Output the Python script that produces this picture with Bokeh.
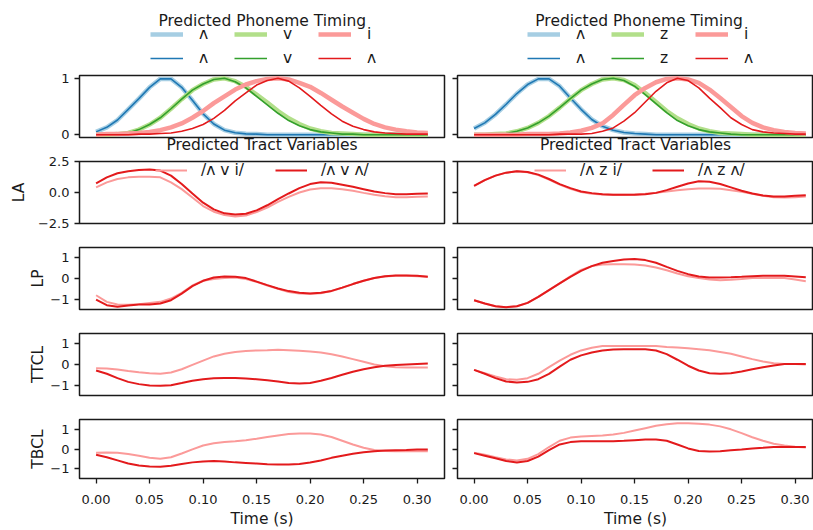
from bokeh.plotting import figure
from bokeh.models import Legend, LegendItem, FixedTicker, Range1d, PrintfTickFormatter, Label, Title
from bokeh.layouts import column, row
from bokeh.embed import file_html
from bokeh.resources import INLINE

# ---------------- data ----------------
time_s = [0.00, 0.01, 0.02, 0.03, 0.04, 0.05, 0.06, 0.07, 0.08, 0.09, 0.10,
          0.11, 0.12, 0.13, 0.14, 0.15, 0.16, 0.17, 0.18, 0.19, 0.20, 0.21,
          0.22, 0.23, 0.24, 0.25, 0.26, 0.27, 0.28, 0.29, 0.30, 0.31]

x_ticks = [0.00, 0.05, 0.10, 0.15, 0.20, 0.25, 0.30]

# phoneme timing, left word (/ʌ v i/ vs /ʌ v ʌ/)
L_ph1_light = [0.05, 0.13, 0.26, 0.45, 0.64, 0.84, 0.99, 0.99, 0.84, 0.61, 0.37, 0.19, 0.08, 0.035, 0.015, 0.01,
               0, 0, 0, 0, 0, 0, 0, 0, 0, 0, 0, 0, 0, 0, 0, 0]
L_ph1_dark = [0.05, 0.13, 0.26, 0.45, 0.64, 0.84, 0.99, 0.99, 0.84, 0.61, 0.37, 0.19, 0.08, 0.035, 0.015, 0.01,
              0, 0, 0, 0, 0, 0, 0, 0, 0, 0, 0, 0, 0, 0, 0, 0]
L_ph2_light = [0, 0, 0.01, 0.03, 0.09, 0.18, 0.30, 0.46, 0.63, 0.79, 0.90, 0.98, 1.0, 0.95, 0.85, 0.71,
               0.57, 0.42, 0.29, 0.19, 0.11, 0.06, 0.03, 0.02, 0.01, 0, 0, 0, 0, 0, 0, 0]
L_ph2_dark = [0, 0, 0.01, 0.03, 0.09, 0.18, 0.30, 0.46, 0.63, 0.79, 0.90, 0.98, 1.0, 0.94, 0.83, 0.68,
              0.53, 0.38, 0.25, 0.16, 0.09, 0.05, 0.03, 0.01, 0.01, 0, 0, 0, 0, 0, 0, 0]
L_ph3_light = [0.0, 0.01, 0.01, 0.02, 0.03, 0.05, 0.08, 0.13, 0.20, 0.30, 0.42, 0.56, 0.68, 0.80, 0.89, 0.95,
               0.99, 1.0, 0.98, 0.92, 0.85, 0.74, 0.62, 0.50, 0.39, 0.28, 0.19, 0.13, 0.09, 0.06, 0.04, 0.03]
L_ph3_dark = [0, 0, 0, 0, 0.01, 0.01, 0.02, 0.03, 0.06, 0.11, 0.18, 0.29, 0.43, 0.60, 0.74, 0.88,
              0.96, 1.0, 0.95, 0.83, 0.68, 0.52, 0.37, 0.24, 0.15, 0.09, 0.05, 0.03, 0.02, 0.01, 0.01, 0.01]

# phoneme timing, right word (/ʌ z i/ vs /ʌ z ʌ/)
R_ph1_light = [0.11, 0.21, 0.36, 0.54, 0.73, 0.89, 0.99, 0.99, 0.86, 0.65, 0.45, 0.27, 0.15, 0.08, 0.04, 0.02,
               0.01, 0, 0, 0, 0, 0, 0, 0, 0, 0, 0, 0, 0, 0, 0, 0]
R_ph1_dark = [0.11, 0.21, 0.36, 0.54, 0.73, 0.89, 0.99, 0.99, 0.86, 0.65, 0.45, 0.27, 0.15, 0.08, 0.04, 0.02,
              0.01, 0, 0, 0, 0, 0, 0, 0, 0, 0, 0, 0, 0, 0, 0, 0]
R_ph2_light = [0, 0, 0.01, 0.02, 0.06, 0.12, 0.21, 0.33, 0.48, 0.64, 0.79, 0.90, 0.98, 1.0, 0.97, 0.88,
               0.74, 0.58, 0.42, 0.29, 0.19, 0.11, 0.06, 0.03, 0.02, 0.01, 0, 0, 0, 0, 0, 0]
R_ph2_dark = [0, 0, 0.01, 0.02, 0.06, 0.12, 0.21, 0.33, 0.48, 0.64, 0.79, 0.90, 0.98, 1.0, 0.96, 0.86,
              0.71, 0.55, 0.39, 0.25, 0.16, 0.09, 0.05, 0.03, 0.01, 0, 0, 0, 0, 0, 0, 0]
R_ph3_light = [0, 0, 0, 0, 0, 0.01, 0.01, 0.01, 0.02, 0.04, 0.07, 0.12, 0.20, 0.35, 0.53, 0.70,
               0.83, 0.93, 0.99, 1.0, 0.98, 0.92, 0.80, 0.65, 0.49, 0.33, 0.21, 0.13, 0.08, 0.05, 0.03, 0.02]
R_ph3_dark = [0, 0, 0, 0, 0, 0, 0, 0, 0.01, 0.01, 0.01, 0.02, 0.06, 0.12, 0.24, 0.39,
              0.58, 0.77, 0.92, 1.0, 0.96, 0.83, 0.65, 0.48, 0.30, 0.18, 0.09, 0.05, 0.03, 0.02, 0.01, 0.01]

# tract variables, left word
L_LA_light = [0.41, 0.82, 1.09, 1.22, 1.28, 1.28, 1.22, 0.82, 0.27, -0.41, -1.09, -1.55, -1.82, -1.93, -1.85, -1.58,
              -1.22, -0.76, -0.35, 0.0, 0.24, 0.35, 0.35, 0.27, 0.14, -0.03, -0.19, -0.30, -0.38, -0.38, -0.35, -0.33]
L_LA_dark = [0.73, 1.22, 1.55, 1.71, 1.82, 1.85, 1.77, 1.36, 0.68, -0.08, -0.82, -1.36, -1.68, -1.77, -1.71, -1.44,
             -1.03, -0.54, -0.08, 0.35, 0.68, 0.82, 0.79, 0.63, 0.46, 0.27, 0.08, -0.05, -0.14, -0.14, -0.11, -0.08]
L_LP_light = [-0.81, -1.13, -1.26, -1.27, -1.24, -1.18, -1.13, -0.97, -0.69, -0.34, -0.11, -0.02, 0.03, 0.05, -0.02, -0.16,
              -0.34, -0.50, -0.65, -0.73, -0.74, -0.71, -0.61, -0.45, -0.27, -0.11, 0.02, 0.10, 0.13, 0.13, 0.11, 0.08]
L_LP_dark = [-1.02, -1.29, -1.37, -1.31, -1.26, -1.26, -1.21, -1.05, -0.73, -0.37, -0.11, 0.05, 0.10, 0.08, 0.02, -0.15,
             -0.32, -0.48, -0.61, -0.69, -0.73, -0.69, -0.60, -0.44, -0.27, -0.11, 0.02, 0.11, 0.15, 0.15, 0.13, 0.08]
L_TTCL_light = [-0.18, -0.19, -0.24, -0.31, -0.37, -0.42, -0.45, -0.39, -0.23, -0.02, 0.19, 0.39, 0.52, 0.60, 0.65, 0.68,
                0.69, 0.71, 0.69, 0.66, 0.63, 0.58, 0.50, 0.39, 0.26, 0.13, 0.0, -0.08, -0.13, -0.15, -0.15, -0.15]
L_TTCL_dark = [-0.29, -0.45, -0.66, -0.84, -0.95, -1.02, -1.03, -1.00, -0.90, -0.79, -0.71, -0.66, -0.65, -0.65, -0.68, -0.71,
               -0.76, -0.82, -0.89, -0.92, -0.89, -0.79, -0.65, -0.50, -0.35, -0.23, -0.13, -0.06, -0.03, 0.0, 0.03, 0.05]
L_TBCL_light = [-0.19, -0.18, -0.19, -0.26, -0.34, -0.44, -0.50, -0.42, -0.23, -0.02, 0.18, 0.29, 0.35, 0.39, 0.44, 0.52,
                0.61, 0.69, 0.76, 0.79, 0.79, 0.74, 0.61, 0.42, 0.23, 0.06, -0.05, -0.10, -0.11, -0.11, -0.11, -0.11]
L_TBCL_dark = [-0.29, -0.42, -0.58, -0.74, -0.84, -0.89, -0.90, -0.85, -0.76, -0.68, -0.63, -0.61, -0.63, -0.68, -0.71, -0.74,
               -0.77, -0.79, -0.79, -0.76, -0.69, -0.58, -0.45, -0.34, -0.24, -0.16, -0.11, -0.08, -0.06, -0.05, -0.03, -0.02]

# tract variables, right word
R_LA_light = [0.54, 1.0, 1.36, 1.60, 1.71, 1.63, 1.40, 1.04, 0.63, 0.30, 0.04, -0.10, -0.16, -0.19, -0.19, -0.17,
              -0.11, -0.03, 0.08, 0.19, 0.27, 0.33, 0.33, 0.30, 0.19, 0.05, -0.10, -0.27, -0.38, -0.41, -0.38, -0.33]
R_LA_dark = [0.54, 1.0, 1.36, 1.60, 1.71, 1.66, 1.44, 1.09, 0.68, 0.35, 0.08, -0.05, -0.14, -0.19, -0.19, -0.19,
             -0.14, -0.03, 0.19, 0.46, 0.73, 0.90, 0.87, 0.68, 0.41, 0.14, -0.08, -0.24, -0.33, -0.33, -0.27, -0.22]
R_LP_light = [-1.05, -1.21, -1.34, -1.39, -1.34, -1.18, -0.89, -0.56, -0.24, 0.10, 0.42, 0.60, 0.68, 0.69, 0.69, 0.68,
              0.63, 0.53, 0.40, 0.24, 0.11, 0.02, -0.05, -0.08, -0.06, -0.03, 0.02, 0.03, 0.03, 0.02, -0.05, -0.13]
R_LP_dark = [-1.05, -1.21, -1.34, -1.39, -1.34, -1.18, -0.89, -0.56, -0.24, 0.08, 0.37, 0.60, 0.76, 0.85, 0.92, 0.94,
             0.89, 0.76, 0.56, 0.37, 0.21, 0.10, 0.05, 0.05, 0.06, 0.08, 0.11, 0.13, 0.13, 0.13, 0.10, 0.06]
R_TTCL_light = [-0.26, -0.42, -0.58, -0.71, -0.74, -0.66, -0.45, -0.13, 0.19, 0.47, 0.68, 0.81, 0.89, 0.90, 0.90, 0.90,
                0.90, 0.89, 0.85, 0.82, 0.79, 0.74, 0.69, 0.61, 0.52, 0.39, 0.26, 0.15, 0.06, 0.03, 0.02, 0.0]
R_TTCL_dark = [-0.26, -0.45, -0.66, -0.82, -0.87, -0.84, -0.71, -0.45, -0.10, 0.23, 0.44, 0.58, 0.68, 0.73, 0.74, 0.74,
               0.74, 0.68, 0.50, 0.23, -0.06, -0.29, -0.42, -0.45, -0.42, -0.34, -0.23, -0.13, -0.05, 0.02, 0.03, 0.02]
R_TBCL_light = [-0.19, -0.29, -0.42, -0.53, -0.58, -0.50, -0.26, 0.10, 0.42, 0.58, 0.63, 0.66, 0.69, 0.74, 0.82, 0.94,
                1.06, 1.18, 1.26, 1.31, 1.31, 1.29, 1.24, 1.15, 1.00, 0.81, 0.60, 0.42, 0.27, 0.18, 0.11, 0.08]
R_TBCL_dark = [-0.21, -0.34, -0.47, -0.61, -0.69, -0.61, -0.39, -0.06, 0.23, 0.35, 0.39, 0.39, 0.39, 0.40, 0.42, 0.45,
               0.48, 0.48, 0.42, 0.23, 0.03, -0.10, -0.13, -0.11, -0.06, -0.02, 0.03, 0.06, 0.10, 0.10, 0.10, 0.10]

# legend labels, in plotting order (target, prediction pairs)
left_phonemes = ["ʌ", "ʌ", "v", "v", "i", "ʌ"]
right_phonemes = ["ʌ", "ʌ", "z", "z", "i", "ʌ"]
left_words = ["/ʌ v i/", "/ʌ v ʌ/"]
right_words = ["/ʌ z i/", "/ʌ z ʌ/"]
tract_names = ["LA", "LP", "TTCL", "TBCL"]

# ---------------- style ----------------
FONT = "DejaVu Sans"
INK = "#1a1a1a"
PH_COLORS = ["#a6cee3", "#1f78b4", "#b2df8a", "#33a02c", "#fb9a99", "#e31a1c"]
PH_WIDTHS = [4.5, 1.6, 4.5, 1.6, 4.5, 1.6]
C_LR, C_R = "#fb9a99", "#e31a1c"

HEADER_H = 70
COL_W = [450, 363]
# rows: phoneme, LA, LP, TTCL, TBCL
FRAME_H = [62, 62, 62, 62, 61]
TOP_B = [5, 8, 12, 12, 12]
BOT_B = [16, 12, 12, 12, 50]


def make_fig(col, r, ylim, yticks, ylabels, ylabel, label_standoff=7, label_baseline=None):
    if col == 0:
        mbl, fw, mbr, xr = 79, 365, 6, (-0.0155, 0.3256)
    else:
        mbl, fw, mbr, xr = 7, 356, 0, (-0.0155, 0.3172)
    last = r == 4
    p = figure(width=mbl + fw + mbr, height=TOP_B[r] + FRAME_H[r] + BOT_B[r],
               min_border_left=mbl, min_border_right=mbr,
               min_border_top=TOP_B[r], min_border_bottom=BOT_B[r],
               x_range=Range1d(*xr), y_range=Range1d(*ylim),
               x_axis_location="below" if last else None,
               output_backend="svg", toolbar_location=None, tools="")
    p.grid.visible = False
    p.outline_line_color = INK
    p.outline_line_width = 1.5
    p.background_fill_color = "white"
    p.border_fill_color = "white"
    for ax in p.yaxis:
        ax.ticker = FixedTicker(ticks=yticks)
        ax.axis_line_color = None
        ax.major_tick_out = 5
        ax.major_tick_in = 0
        ax.major_tick_line_width = 1.3
        ax.major_tick_line_color = INK
        ax.minor_tick_line_color = None
        ax.major_label_text_font = FONT
        ax.major_label_text_font_size = "13px"
        ax.major_label_text_color = INK
        if col == 0:
            ax.major_label_overrides = {t: l for t, l in zip(yticks, ylabels)}
            ax.major_label_standoff = 5
            if ylabel:
                ax.axis_label = ylabel
            ax.axis_label_text_font = FONT
            ax.axis_label_text_font_size = "15.5px"
            ax.axis_label_text_font_style = "normal"
            ax.axis_label_text_color = INK
            ax.axis_label_standoff = label_standoff
            if label_baseline:
                ax.axis_label_text_baseline = label_baseline
        else:
            ax.major_label_overrides = {t: "" for t in yticks}
            ax.major_label_standoff = 0
    if last:
        for ax in p.xaxis:
            ax.ticker = FixedTicker(ticks=x_ticks)
            ax.formatter = PrintfTickFormatter(format="%.2f")
            ax.axis_line_color = None
            ax.major_tick_out = 5
            ax.major_tick_in = 0
            ax.major_tick_line_width = 1.3
            ax.major_tick_line_color = INK
            ax.minor_tick_line_color = None
            ax.major_label_text_font = FONT
            ax.major_label_text_font_size = "13px"
            ax.major_label_text_color = INK
            ax.major_label_standoff = 11
            ax.axis_label = "Time (s)"
            ax.axis_label_text_font = FONT
            ax.axis_label_text_font_size = "15.5px"
            ax.axis_label_text_font_style = "normal"
            ax.axis_label_text_color = INK
            ax.axis_label_standoff = 3
    return p


def header_fig(col, series, labels):
    # strip above the phoneme panel: title and two-row legend (targets / predictions)
    p = figure(width=COL_W[col], height=HEADER_H, min_border=0,
               x_axis_location=None, y_axis_location=None,
               x_range=Range1d(-1.0, -0.5), y_range=Range1d(0, 1),
               output_backend="svg", toolbar_location=None, tools="")
    p.grid.visible = False
    p.outline_line_color = None
    cx = 261.8 if col == 0 else 188.6
    p.add_layout(Label(x=cx, y=HEADER_H - 20, x_units="screen", y_units="screen",
                       text="Predicted Phoneme Timing", text_align="center", text_baseline="middle",
                       text_font=FONT, text_font_size="15.5px", text_color=INK))
    # same series as the panel below; this strip's x range lies outside the data, so only legend keys show
    rends = [p.line(time_s, ys, line_color=c, line_width=w) for ys, c, w in zip(series, PH_COLORS, PH_WIDTHS)]
    order = [0, 2, 4, 1, 3, 5]
    items = [LegendItem(label=labels[i], renderers=[rends[i]]) for i in order]
    vx = 150 if col == 0 else 77
    leg = Legend(items=items, orientation="horizontal", ncols=3,
                 label_text_font=FONT, label_text_font_size="15.5px", label_text_color=INK,
                 glyph_width=33, glyph_height=24, label_height=24, label_width=35,
                 label_standoff=16, spacing=0, padding=0, margin=0,
                 border_line_color=None, background_fill_alpha=0,
                 location=(vx, 0))
    p.add_layout(leg, "center")
    return p


def phoneme_fig(col, series):
    p = make_fig(col, 0, (-0.05, 1.05), [0, 1], ["0", "1"], "")
    for ys, c, w in zip(series, PH_COLORS, PH_WIDTHS):
        p.line(time_s, ys, line_color=c, line_width=w)
    p.add_layout(Title(text="Predicted Tract Variables", align="center", vertical_align="top",
                       standoff=-4, text_font=FONT, text_font_size="15.5px",
                       text_font_style="normal", text_color=INK), "below")
    return p


def tract_fig(col, r, light, dark, name, words):
    if name == "LA":
        p = make_fig(col, r, (-2.5, 2.5), [-2.5, 0, 2.5], ["\u22122.5", "0.0", "2.5"], name, 7)
    else:
        p = make_fig(col, r, (-1.5, 1.5), [-1, 0, 1], ["\u22121", "0", "1"], name, 0, "middle")
    r1 = p.line(time_s, light, line_color=C_LR, line_width=2)
    r2 = p.line(time_s, dark, line_color=C_R, line_width=2)
    if name == "LA":
        lw = 74 if col == 0 else 72
        vx = 76 if col == 0 else 77
        leg = Legend(items=[LegendItem(label=words[0], renderers=[r1]),
                            LegendItem(label=words[1], renderers=[r2])],
                     orientation="horizontal", location=(vx, FRAME_H[r] - 18),
                     label_text_font=FONT, label_text_font_size="15.5px", label_text_color=INK,
                     glyph_width=32, glyph_height=18, label_height=18, label_width=lw,
                     label_standoff=14, spacing=0, padding=0, margin=0,
                     border_line_color=None, background_fill_alpha=0)
        p.add_layout(leg, "center")
    return p


left_ph = [L_ph1_light, L_ph1_dark, L_ph2_light, L_ph2_dark, L_ph3_light, L_ph3_dark]
right_ph = [R_ph1_light, R_ph1_dark, R_ph2_light, R_ph2_dark, R_ph3_light, R_ph3_dark]
left_tv = [(L_LA_light, L_LA_dark), (L_LP_light, L_LP_dark), (L_TTCL_light, L_TTCL_dark), (L_TBCL_light, L_TBCL_dark)]
right_tv = [(R_LA_light, R_LA_dark), (R_LP_light, R_LP_dark), (R_TTCL_light, R_TTCL_dark), (R_TBCL_light, R_TBCL_dark)]

rows = [row(header_fig(0, left_ph, left_phonemes), header_fig(1, right_ph, right_phonemes), spacing=0),
        row(phoneme_fig(0, left_ph), phoneme_fig(1, right_ph), spacing=0)]
for i, name in enumerate(tract_names):
    rows.append(row(tract_fig(0, i + 1, left_tv[i][0], left_tv[i][1], name, left_words),
                    tract_fig(1, i + 1, right_tv[i][0], right_tv[i][1], name, right_words), spacing=0))

layout = column(*rows, spacing=0)

open("out.html", "w").write(file_html(layout, INLINE))
